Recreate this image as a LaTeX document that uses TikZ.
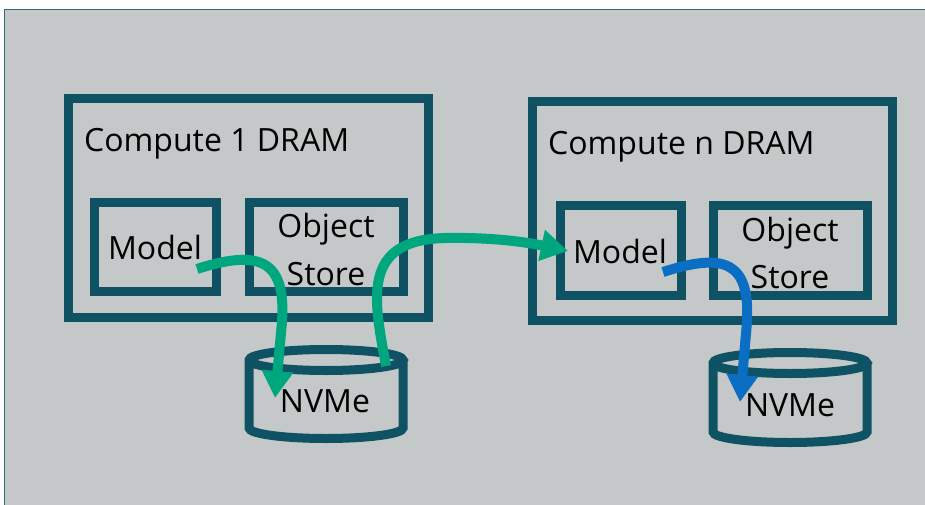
\documentclass[tikz,border=0pt]{standalone}
\usepackage{fontspec}
\setmainfont{Open Sans}
\usetikzlibrary{arrows.meta}
\definecolor{bgc}{HTML}{C4C8C9}
\definecolor{teal}{HTML}{0E5264}
\definecolor{frame}{HTML}{2E6977}
\definecolor{grn}{HTML}{00A77E}
\definecolor{blu}{HTML}{0A6FC2}
\tikzset{
  box/.style={draw=teal, line width=9pt, minimum width=#1, inner sep=0pt},
  lbl/.style={anchor=base, inner sep=0pt, font=\fontsize{32}{40}\selectfont},
  flow/.style={line width=10pt, -{Triangle[length=27pt,width=30pt]}},
  cyl/.style={draw=teal, line width=9pt}
}
\begin{document}
\begin{tikzpicture}[x=1pt,y=-1pt]
\useasboundingbox (0,0) rectangle (925,505);
\fill[bgc] (4,9) rectangle (925,505);
\draw[frame, line width=1.2pt] (4.5,505) -- (4.5,9.5) -- (925,9.5);

% outer boxes
\node[box=359.5pt, minimum height=218pt] (dram1) at (248.25,208) {};
\node[box=360pt, minimum height=218pt] (dramn) at (712.75,211) {};
% inner boxes
\node[box=122.5pt, minimum height=89.5pt] (model1) at (155.25,246.75) {};
\node[box=154pt, minimum height=89.5pt] (store1) at (326,246.75) {};
\node[box=121pt, minimum height=90pt] (modeln) at (620.5,250) {};
\node[box=154pt, minimum height=90pt] (storen) at (790,250) {};

% cylinders
\draw[cyl] (249,360) arc[start angle=180,end angle=0,x radius=77,y radius=10.5]
  arc[start angle=0,end angle=-180,x radius=77,y radius=10.5] -- (249,428)
  arc[start angle=180,end angle=0,x radius=77,y radius=10.5] -- (403,360);
\draw[cyl] (713,363) arc[start angle=180,end angle=0,x radius=77,y radius=10.5]
  arc[start angle=0,end angle=-180,x radius=77,y radius=10.5] -- (713,432)
  arc[start angle=180,end angle=0,x radius=77,y radius=10.5] -- (867,363);

% labels
\node[lbl, anchor=base west] (t1) at (84,152) {Compute 1 DRAM};
\node[lbl, anchor=base west] (tn) at (548,155) {Compute n DRAM};
\node[lbl] (m1) at (155,259) {Model};
\node[lbl] (o1) at (326,237) {Object};
\node[lbl] (s1) at (326,285) {Store};
\node[lbl] (mn) at (620,263) {Model};
\node[lbl] (on) at (790,241) {Object};
\node[lbl] (sn) at (790,288) {Store};
\node[lbl] (v1) at (325,412) {NVMe};
\node[lbl] (vn) at (790,416) {NVMe};

% connectors
\coordinate (a1s) at (197,269);
\coordinate (a1e) at (275,398);
\coordinate (a2s) at (386,366);
\coordinate (a2e) at (568,251);
\coordinate (a3s) at (663,272);
\coordinate (a3e) at (740,402);
\draw[flow, grn] (a1s) .. controls (262,248) and (286,262) .. (282,322) -- (a1e);
\draw[flow, grn] (a2s) .. controls (374,300) and (360,240) .. (445,238) .. controls (500,237) and (535,244) .. (a2e);
\draw[flow, blu] (a3s) .. controls (725,252) and (750,262) .. (747,322) -- (a3e);
\end{tikzpicture}
\end{document}
